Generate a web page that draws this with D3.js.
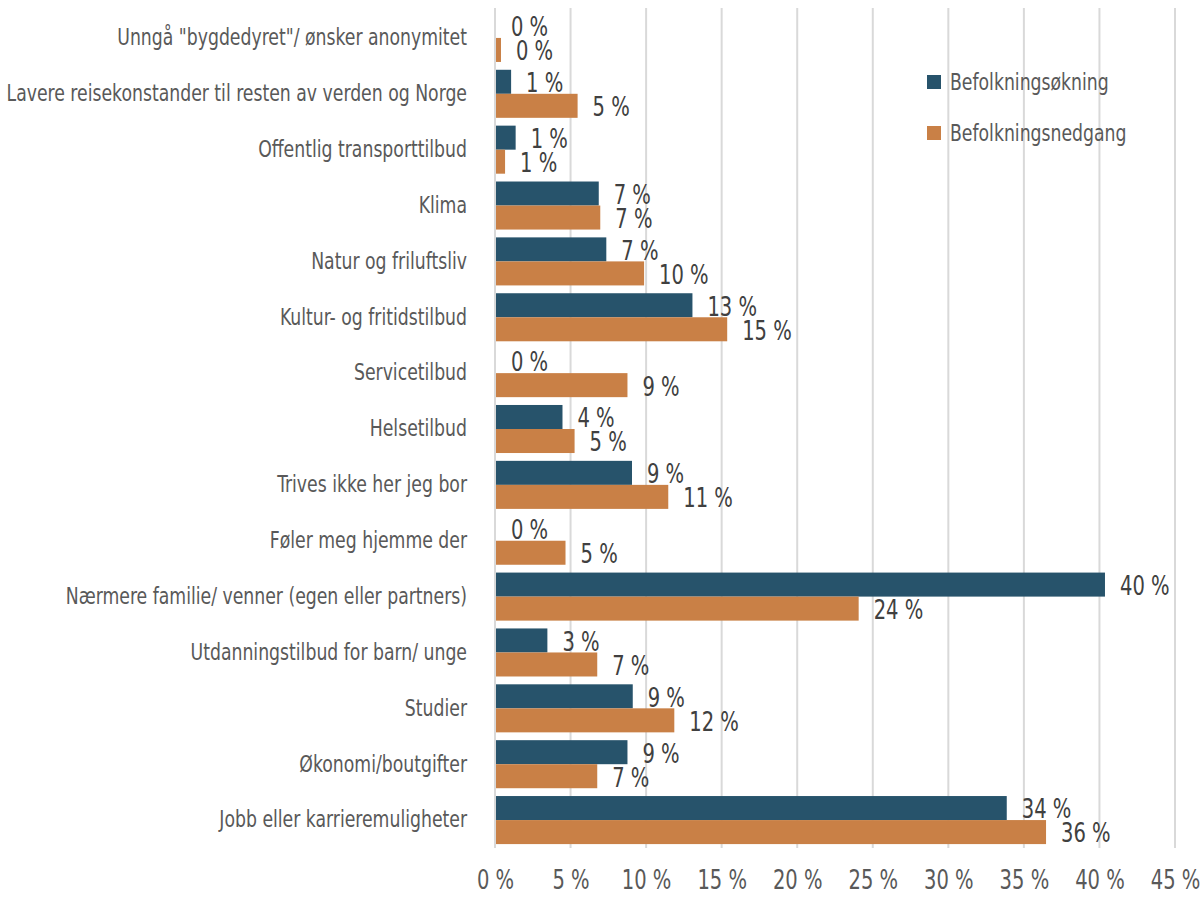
<!DOCTYPE html>
<html>
<head>
<meta charset="utf-8">
<script src="https://cdn.jsdelivr.net/npm/d3@7"></script>
<style>
  body { margin: 0; background: #fff; }
  text { font-family: "DejaVu Sans Condensed", "Liberation Sans Narrow", sans-serif; }
</style>
</head>
<body>
<svg id="chart" width="1204" height="897"></svg>
<script>
const categories = [
  'Unngå "bygdedyret"/ ønsker anonymitet',
  "Lavere reisekonstander til resten av verden og Norge",
  "Offentlig transporttilbud",
  "Klima",
  "Natur og friluftsliv",
  "Kultur- og fritidstilbud",
  "Servicetilbud",
  "Helsetilbud",
  "Trives ikke her jeg bor",
  "Føler meg hjemme der",
  "Nærmere familie/ venner (egen eller partners)",
  "Utdanningstilbud for barn/ unge",
  "Studier",
  "Økonomi/boutgifter",
  "Jobb eller karrieremuligheter"
];
const seriesNames = ["Befolkningsøkning", "Befolkningsnedgang"];
const okning = [0, 1.0, 1.3, 6.8, 7.3, 13.0, 0, 4.4, 9.0, 0, 40.3, 3.4, 9.05, 8.7, 33.8];
const nedgang = [0.33, 5.4, 0.6, 6.9, 9.8, 15.3, 8.7, 5.2, 11.4, 4.6, 24.0, 6.7, 11.8, 6.7, 36.4];
const xTicks = [0, 5, 10, 15, 20, 25, 30, 35, 40, 45];
const colors = ["#27536b", "#c98046"];

const SX = 0.835;
const svg = d3.select("#chart");
const x = d3.scaleLinear().domain([0, 45]).range([495, 1175]);
const y = d3.scaleBand().domain(categories).range([10, 848]).paddingInner(0.14).paddingOuter(0.07);
const ySub = d3.scaleBand().domain([0, 1]).range([0, y.bandwidth()]);

// grid
svg.append("g").selectAll("line").data(xTicks).join("line")
  .attr("x1", d => x(d)).attr("x2", d => x(d))
  .attr("y1", 8).attr("y2", 848)
  .attr("stroke", "#d9d9d9").attr("stroke-width", 2);

// x axis labels
const xAxis = d3.axisBottom(x).tickValues(xTicks).tickFormat(d => d + " %").tickSize(0).tickPadding(0);
const gx = svg.append("g").attr("transform", "translate(0,871)").call(xAxis);
gx.select(".domain").remove();
gx.selectAll("text").attr("font-size", 26).attr("fill", "#595959")
  .attr("font-family", '"DejaVu Sans Condensed", sans-serif')
  .attr("transform", `scale(${SX},1)`);

// y axis labels
const yAxis = d3.axisLeft(y).tickSize(0).tickPadding(0);
const gy = svg.append("g").attr("transform", "translate(467,0)").call(yAxis);
gy.select(".domain").remove();
gy.selectAll("text").attr("font-size", 23).attr("fill", "#595959")
  .attr("font-family", '"DejaVu Sans Condensed", sans-serif')
  .attr("transform", `scale(${SX},1)`);

const data = [okning, nedgang];
const fmt = v => Math.round(v) + " %";
data.forEach((vals, si) => {
  const g = svg.append("g");
  g.selectAll("rect").data(vals).join("rect")
    .attr("x", x(0) + 1)
    .attr("y", (d, i) => y(categories[i]) + ySub(si))
    .attr("width", d => Math.max(0, x(d) - x(0)))
    .attr("height", ySub.bandwidth())
    .attr("fill", colors[si]);
  g.selectAll("text").data(vals).join("text")
    .attr("transform", (d, i) => `translate(${x(d) + 16},${y(categories[i]) + ySub(si) + ySub.bandwidth() / 2 + 1}) scale(${SX},1)`)
    .attr("dy", "0.36em")
    .attr("font-size", 26)
    .attr("fill", "#404040")
    .text(d => fmt(d));
});

// legend
const lg = svg.append("g");
seriesNames.forEach((name, i) => {
  const ly = 82 + i * 51;
  lg.append("rect").attr("x", 927).attr("y", ly - 7).attr("width", 14).attr("height", 14).attr("fill", colors[i]);
  lg.append("text").attr("transform", `translate(950,${ly}) scale(${SX},1)`).attr("dy", "0.36em")
    .attr("font-size", 23).attr("fill", "#595959").text(name);
});
</script>
</body>
</html>
